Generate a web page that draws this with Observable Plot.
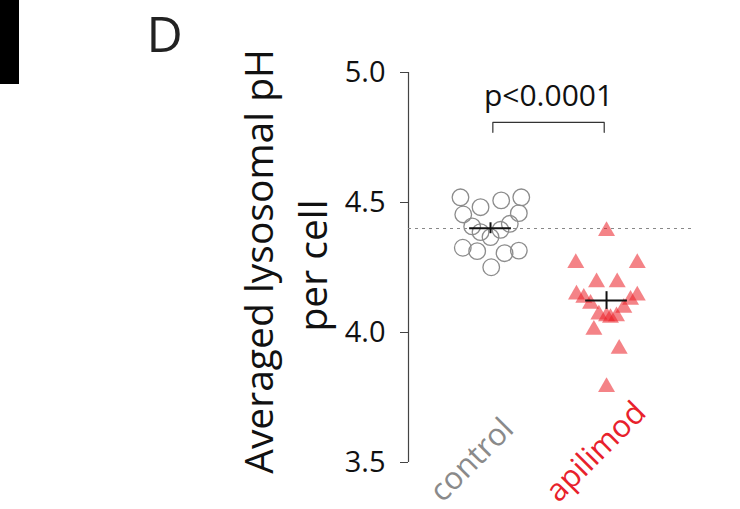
<!DOCTYPE html>
<html>
<head>
<meta charset="utf-8">
<script src="https://cdn.jsdelivr.net/npm/d3@7"></script>
<script src="https://cdn.jsdelivr.net/npm/@observablehq/plot@0.6"></script>
<style>
  html, body { margin: 0; padding: 0; background: #fff; }
  #chart { position: relative; width: 740px; height: 509px; }
  #chart svg { display: block; }
</style>
</head>
<body>
<div id="chart"></div>
<script>
// ---- data ----
const categories = ["control", "apilimod"];
const categoryColors = ["#8a8a8a", "#e8212b"];

const controlValues = [4.52, 4.482, 4.508, 4.52, 4.454, 4.459, 4.408, 4.418, 4.386, 4.395, 4.367, 4.326, 4.313, 4.305, 4.315, 4.251];
const controlJitter = [-0.259, -0.086, 0.092, 0.265, -0.235, 0.244, -0.158, 0.166, -0.086, 0.086, 0, -0.239, -0.115, 0.121, 0.244, 0.006];

const apilimodValues = [4.39, 4.267, 4.267, 4.193, 4.193, 4.146, 4.133, 4.142, 4.126, 4.11, 4.095, 4.069, 4.062, 4.056, 4.062, 4.01, 3.937, 3.79];
const apilimodJitter = [0, -0.265, 0.265, -0.086, 0.092, -0.259, -0.196, 0.265, 0.207, -0.138, 0.149, -0.066, 0, 0.034, 0.086, -0.109, 0.109, 0];

const means = [4.401, 4.123];
const sems = [0.021, 0.034];
const meanHalfWidth = 0.18;

const referenceLine = [4.40];
const yTicks = [3.5, 4.0, 4.5, 5.0];
const yDomain = [3.5, 5.0];
const xDomain = [-0.707, 1.741];

const pText = "p<0.0001";
const bracketTop = 4.808;
const bracketBottom = 4.77;
const bracketEnds = [0.02, 0.98];
const pTextY = 4.908;

const titleLine1 = "Averaged lysosomal pH";
const titleLine2 = "per cell";
const panelLetter = "D";

// ---- build tables ----
const controlPts = controlValues.map((v, i) => ({x: 0 + controlJitter[i], y: v}));
const apilimodPts = apilimodValues.map((v, i) => ({x: 1 + apilimodJitter[i], y: v}));
const meanRows = means.map((m, i) => ({i, mean: m, sem: sems[i]}));
const bracket = [
  {x: bracketEnds[0], y: bracketBottom},
  {x: bracketEnds[0], y: bracketTop},
  {x: bracketEnds[1], y: bracketTop},
  {x: bracketEnds[1], y: bracketBottom}
];
const labelRows = categories.map((c, i) => ({i, c, color: categoryColors[i]}));

const font = "'Open Sans', 'Noto Sans', sans-serif";

const chart = Plot.plot({
  width: 740,
  height: 509,
  marginLeft: 408,
  marginRight: 48,
  marginTop: 72,
  marginBottom: 47,
  style: {fontFamily: font, fontSize: "29px", background: "#fff", overflow: "visible"},
  x: {domain: xDomain, axis: null},
  y: {domain: yDomain, axis: null},
  marks: [
    // axis line
    Plot.ruleX([xDomain[0]], {y1: yDomain[0], y2: yDomain[1], stroke: "#444", strokeWidth: 1.2}),
    Plot.axisY({
      ticks: yTicks,
      tickFormat: d3.format(".1f"),
      tickSize: 8,
      tickPadding: 15,
      stroke: "#444",
      fill: "#111",
      fontSize: 29,
      label: null
    }),
    // reference dashed line
    Plot.ruleY(referenceLine, {stroke: "#888", strokeDasharray: "3,4", strokeWidth: 1}),
    // control circles
    Plot.dot(controlPts, {x: "x", y: "y", r: 8.3, stroke: "#8c8c8c", strokeWidth: 1.3, fill: "none"}),
    // apilimod triangles
    Plot.dot(apilimodPts, {x: "x", y: "y", r: 6.3, symbol: "triangle", fill: "#eb1e24", fillOpacity: 0.55, stroke: "none"}),
    // mean and SEM
    Plot.ruleY(meanRows, {y: "mean", x1: d => d.i - meanHalfWidth, x2: d => d.i + meanHalfWidth, stroke: "#111", strokeWidth: 2}),
    Plot.ruleX(meanRows, {x: "i", y1: d => d.mean - d.sem, y2: d => d.mean + d.sem, stroke: "#111", strokeWidth: 2}),
    // significance bracket
    Plot.line(bracket, {x: "x", y: "y", stroke: "#333", strokeWidth: 1.2}),
    Plot.text([pText], {x: 0.5, y: pTextY, text: d => d, fontSize: 30, fill: "#111", lineAnchor: "middle"}),
    // category labels
    Plot.text(labelRows, {x: "i", y: yDomain[0], text: "c", fill: "color", fontSize: 31, rotate: -45, textAnchor: "start", lineAnchor: "middle", dx: -55, dy: 34}),
    // y title
    Plot.text([titleLine1], {frameAnchor: "left", text: d => d, rotate: -90, fontSize: 39, fill: "#111", textAnchor: "middle", lineAnchor: "middle", dx: -148, dy: -6}),
    Plot.text([titleLine2], {frameAnchor: "left", text: d => d, rotate: -90, fontSize: 39, fill: "#111", textAnchor: "middle", lineAnchor: "middle", dx: -94, dy: -2}),
    // panel letter
    Plot.text([panelLetter], {frameAnchor: "top-left", text: d => d, fontSize: 50, fill: "#222", textAnchor: "start", lineAnchor: "middle", dx: -262, dy: -37})
  ]
});

// black edge of neighbouring panel
d3.select(chart).insert("rect", ":first-child")
  .attr("x", 0).attr("y", 0).attr("width", 19).attr("height", 84).attr("fill", "#000");

document.getElementById("chart").appendChild(chart);
</script>
</body>
</html>
